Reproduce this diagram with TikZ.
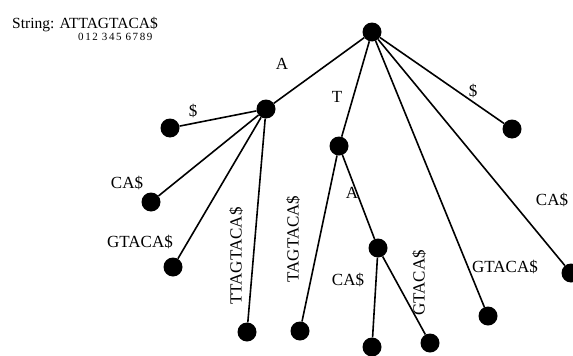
\documentclass[tikz,border=0pt]{standalone}
\usepackage{fontspec}
\setmainfont{Liberation Serif}
\newcommand{\dg}{\hspace{1.6pt}}
\newcommand{\dgg}{\hspace{4pt}}
\begin{document}
\begin{tikzpicture}[x=1pt,y=-1pt,
  vtx/.style={circle,fill=black,inner sep=0pt,minimum size=19pt},
  edge/.style={line width=1.6pt},
  lbl/.style={inner sep=0pt,font=\fontsize{17}{17}\selectfont},
  vlbl/.style={lbl,rotate=90}]
\useasboundingbox (0,0) rectangle (573,356);
\node[anchor=base west,inner sep=0pt,font=\fontsize{15.5}{15.5}\selectfont] (title) at (12,28) {String: ATTAGTACA\$};
\node[anchor=base west,inner sep=0pt,font=\fontsize{11}{11}\selectfont] (digits) at (78,40) {0\dg1\dg2\dgg3\dg4\dg5\dgg6\dg7\dg8\dg9};
\node[vtx] (root) at (372,32) {};
\node[vtx] (a) at (266,109) {};
\node[vtx] (l1) at (170,128) {};
\node[vtx] (l2) at (151,202) {};
\node[vtx] (l3) at (173,267) {};
\node[vtx] (l4) at (247,332) {};
\node[vtx] (t) at (339,146) {};
\node[vtx] (l5) at (300,331) {};
\node[vtx] (ta) at (378,248) {};
\node[vtx] (l6) at (372,347) {};
\node[vtx] (l7) at (430,343) {};
\node[vtx] (l8) at (488,316) {};
\node[vtx] (l9) at (512,129) {};
\node[vtx] (l10) at (571,273) {};
\draw[edge] (root) -- (a);
\draw[edge] (a) -- (l1);
\draw[edge] (a) -- (l2);
\draw[edge] (a) -- (l3);
\draw[edge] (a) -- (l4);
\draw[edge] (root) -- (t);
\draw[edge] (t) -- (l5);
\draw[edge] (t) -- (ta);
\draw[edge] (ta) -- (l6);
\draw[edge] (ta) -- (l7);
\draw[edge] (root) -- (l8);
\draw[edge] (root) -- (l9);
\draw[edge] (root) -- (l10);
\node[lbl] (la) at (282,64) {A};
\node[lbl] (ld1) at (193,111) {\$};
\node[lbl] (lcas1) at (127,183) {CA\$};
\node[lbl] (lg1) at (140,242) {GTACA\$};
\node[vlbl] (lt1) at (236,256) {TTAGTACA\$};
\node[lbl] (lt) at (337,97) {T};
\node[vlbl] (lt2) at (293,239) {TAGTACA\$};
\node[lbl] (la2) at (352,193) {A};
\node[lbl] (lcas2) at (348,280) {CA\$};
\node[vlbl] (lg2) at (419,283) {GTACA\$};
\node[lbl] (lg3) at (505,267) {GTACA\$};
\node[lbl] (lcas3) at (552,200) {CA\$};
\node[lbl] (ld2) at (473,91) {\$};
\end{tikzpicture}
\end{document}
